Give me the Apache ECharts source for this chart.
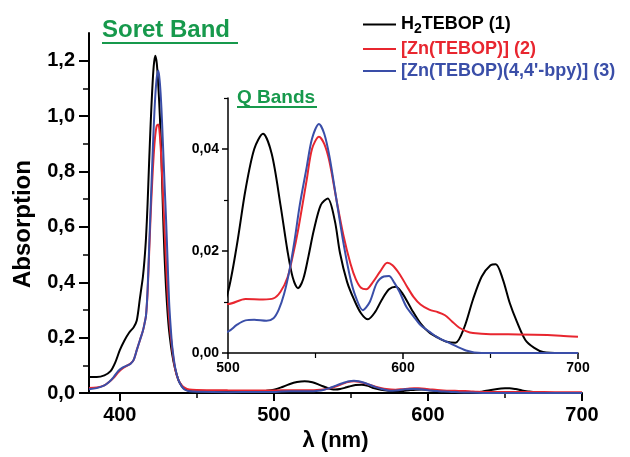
<!DOCTYPE html>
<html><head><meta charset="utf-8">
<script src="https://cdn.jsdelivr.net/npm/echarts@6/dist/echarts.min.js"></script>
<style>html,body{margin:0;padding:0;background:#fff}#c{width:630px;height:457px}</style>
</head><body><div id="c"></div>
<script>
const seriesNames = ['H2TEBOP (1)', '[Zn(TEBOP)] (2)', "[Zn(TEBOP)(4,4'-bpy)] (3)"];
const seriesColors = ['#000000', '#e8262f', '#3a4ea8'];

const h2tebop = [[380,0.058],[385,0.058],[390,0.064],[394,0.079],[397,0.110],[400,0.155],[403,0.190],[406,0.218],[409,0.238],[411,0.262],[413,0.340],[414,0.380],[415,0.420],[416,0.480],[417,0.560],[418,0.680],[419,0.830],[420,0.970],[421,1.090],[422,1.180],[423,1.218],[424,1.190],[425,1.110],[426,1.000],[427,0.850],[428,0.660],[429,0.500],[430,0.380],[431,0.290],[432,0.225],[434,0.140],[436,0.085],[438,0.048],[440,0.027],[442,0.015],[445,0.008],[450,0.005],[470,0.004],[490,0.006],[495,0.008],[500,0.012],[505,0.021],[510,0.032],[515,0.040],[520,0.043],[525,0.039],[530,0.029],[534,0.020],[537,0.0148],[540,0.0127],[543,0.0145],[546,0.019],[549,0.024],[553,0.029],[557,0.0303],[561,0.026],[564,0.0196],[568,0.014],[572,0.0105],[576,0.0078],[580,0.0066],[584,0.008],[588,0.0105],[592,0.0125],[596,0.013],[600,0.0115],[605,0.0085],[610,0.0058],[615,0.004],[620,0.003],[625,0.0022],[630,0.002],[635,0.005],[640,0.0105],[645,0.015],[650,0.0172],[653,0.0174],[657,0.0145],[661,0.0098],[665,0.0062],[670,0.0025],[675,0.001],[680,0.0002],[690,0],[700,0]];

const znTebop = [[380,0.018],[385,0.020],[390,0.028],[393,0.040],[396,0.055],[399,0.075],[402,0.090],[405,0.100],[407,0.107],[409,0.120],[411,0.155],[413,0.190],[415,0.225],[416,0.250],[417,0.280],[418,0.360],[419,0.500],[420,0.640],[421,0.760],[422,0.860],[423,0.930],[424,0.965],[425,0.970],[426,0.930],[427,0.840],[428,0.720],[429,0.600],[430,0.470],[431,0.360],[432,0.270],[434,0.160],[436,0.085],[438,0.048],[440,0.030],[442,0.020],[445,0.013],[450,0.011],[470,0.010],[490,0.0097],[500,0.0096],[510,0.0106],[520,0.0105],[526,0.0107],[530,0.012],[534,0.0148],[537,0.019],[540,0.024],[545,0.034],[548,0.040],[552,0.0424],[555,0.041],[558,0.0375],[562,0.030],[566,0.023],[570,0.0175],[573,0.0145],[576,0.0128],[579,0.0125],[583,0.014],[587,0.0160],[591,0.0177],[594,0.0172],[598,0.0155],[602,0.0132],[606,0.011],[610,0.0095],[615,0.0085],[620,0.0080],[624,0.0074],[628,0.0062],[632,0.005],[636,0.0043],[640,0.0039],[650,0.0037],[660,0.0037],[675,0.0036],[690,0.0034],[700,0.0032]];

const znTebopBpy = [[380,0.014],[385,0.018],[390,0.028],[393,0.040],[396,0.058],[399,0.080],[402,0.093],[405,0.100],[407,0.106],[409,0.120],[411,0.155],[413,0.190],[415,0.225],[416,0.250],[417,0.280],[418,0.370],[419,0.520],[420,0.670],[421,0.820],[422,0.960],[423,1.070],[424,1.140],[425,1.165],[426,1.120],[427,1.030],[428,0.900],[429,0.760],[430,0.630],[431,0.480],[432,0.330],[433,0.240],[434,0.170],[436,0.090],[438,0.048],[440,0.026],[442,0.013],[445,0.007],[450,0.005],[470,0.0035],[490,0.0038],[500,0.0042],[505,0.0055],[510,0.0064],[515,0.0065],[522,0.0063],[526,0.0068],[529,0.0085],[532,0.0115],[535,0.016],[538,0.022],[541,0.029],[545,0.0365],[548,0.042],[552,0.0449],[555,0.043],[558,0.0385],[562,0.030],[566,0.0215],[570,0.0145],[573,0.011],[577,0.0084],[581,0.010],[585,0.0137],[589,0.0150],[592,0.0151],[595,0.0138],[598,0.012],[602,0.009],[606,0.0072],[610,0.0055],[615,0.0042],[620,0.003],[627,0.0019],[636,0.0005],[645,0],[700,0]];

const mainXLabels = [400, 500, 600, 700];
const mainXMinor = [450, 550, 650];
const mainYLabels = [0, 0.2, 0.4, 0.6, 0.8, 1.0, 1.2];
const mainYMinor = [0.1, 0.3, 0.5, 0.7, 0.9, 1.1];
const insetXLabels = [500, 600, 700];
const insetXMinor = [550, 650];
const insetYLabels = [0, 0.02, 0.04];
const insetYMinor = [0.01, 0.03, 0.05];

const FONT = '"Liberation Sans", Arial, sans-serif';
const GREEN = '#17994c';
const comma = d => v => v.toFixed(d).replace('.', ',');

function majorAxis(extra) {
  return Object.assign({
    type: 'value',
    splitLine: { show: false },
    axisLine: { show: true, lineStyle: { color: '#000', width: 2 } },
    axisTick: { show: true, lineStyle: { color: '#000', width: 2 } },
    axisLabel: { color: '#000', fontWeight: 'bold', fontFamily: FONT }
  }, extra);
}
function minorAxis(extra) {
  return Object.assign({
    type: 'value',
    splitLine: { show: false },
    axisLine: { show: false },
    axisLabel: { show: false },
    axisTick: { show: true, lineStyle: { color: '#000', width: 1.5 } }
  }, extra);
}

const chart = echarts.init(document.getElementById('c'), null, { renderer: 'canvas' });
const datasets = [h2tebop, znTebop, znTebopBpy];
const series = [];
[[0, 0], [2, 2]].forEach(([xi, yi]) => {
  datasets.forEach((d, i) => {
    series.push({
      type: 'line', name: seriesNames[i], xAxisIndex: xi, yAxisIndex: yi,
      data: d, showSymbol: false, symbol: 'none', smooth: 0.3,
      clip: true, silent: true,
      lineStyle: { color: seriesColors[i], width: 2 },
      itemStyle: { color: seriesColors[i] }
    });
  });
});

chart.setOption({
  animation: false,
  backgroundColor: '#fff',
  grid: [
    { left: 89, right: 48, top: 33, bottom: 58 },
    { left: 228, right: 52, top: 98, bottom: 104 }
  ],
  xAxis: [
    majorAxis({ gridIndex: 0, min: 380, max: 700,
      axisTick: { show: true, length: 8, customValues: mainXLabels, lineStyle: { color: '#000', width: 2 } },
      axisLabel: { customValues: mainXLabels, formatter: v => String(v), fontSize: 20, fontWeight: 'bold', color: '#000', fontFamily: FONT, margin: 12 },
      name: 'λ (nm)', nameLocation: 'middle', nameGap: 33,
      nameTextStyle: { fontSize: 22, fontWeight: 'bold', color: '#000', fontFamily: FONT } }),
    minorAxis({ gridIndex: 0, min: 380, max: 700, position: 'bottom',
      axisTick: { show: true, length: 5, customValues: mainXMinor, lineStyle: { color: '#000', width: 1.5 } } }),
    majorAxis({ gridIndex: 1, min: 500, max: 700,
      axisLine: { show: true, lineStyle: { color: '#000', width: 1.5 } },
      axisTick: { show: true, length: 6, customValues: insetXLabels, lineStyle: { color: '#000', width: 1.5 } },
      axisLabel: { customValues: insetXLabels, formatter: v => String(v), fontSize: 14, fontWeight: 'bold', color: '#000', fontFamily: FONT, margin: 8 } }),
    minorAxis({ gridIndex: 1, min: 500, max: 700, position: 'bottom',
      axisTick: { show: true, length: 5, customValues: insetXMinor, lineStyle: { color: '#000', width: 1.2 } } })
  ],
  yAxis: [
    majorAxis({ gridIndex: 0, min: 0, max: 1.3,
      axisTick: { show: true, length: 10, customValues: mainYLabels, lineStyle: { color: '#000', width: 2 } },
      axisLabel: { customValues: mainYLabels, formatter: comma(1), fontSize: 20, fontWeight: 'bold', color: '#000', fontFamily: FONT, margin: 14 },
      name: 'Absorption', nameLocation: 'middle', nameGap: 54, nameRotate: 90,
      nameTextStyle: { fontSize: 24, fontWeight: 'bold', color: '#000', fontFamily: FONT, padding: [0, 22, 0, 0] } }),
    minorAxis({ gridIndex: 0, min: 0, max: 1.3, position: 'left',
      axisTick: { show: true, length: 6, customValues: mainYMinor, lineStyle: { color: '#000', width: 1.5 } } }),
    majorAxis({ gridIndex: 1, min: 0, max: 0.05,
      axisLine: { show: true, lineStyle: { color: '#000', width: 1.5 } },
      axisTick: { show: true, length: 6, customValues: insetYLabels, lineStyle: { color: '#000', width: 1.5 } },
      axisLabel: { customValues: insetYLabels, formatter: comma(2), fontSize: 14, fontWeight: 'bold', color: '#000', fontFamily: FONT, margin: 9 } }),
    minorAxis({ gridIndex: 1, min: 0, max: 0.05, position: 'left',
      axisTick: { show: true, length: 4, customValues: insetYMinor, lineStyle: { color: '#000', width: 1.2 } } })
  ],
  legend: {
    orient: 'vertical', left: 363, top: 13, padding: 0, itemWidth: 33, itemHeight: 2, itemGap: 4,
    icon: 'rect',
    selectedMode: false,
    data: seriesNames.map((n, i) => ({ name: n, textStyle: { color: seriesColors[i] } })),
    formatter: n => n === seriesNames[0] ? '{a|H}{s|2}{a|TEBOP (1)}' : n,
    textStyle: {
      fontSize: 18, fontWeight: 'bold', fontFamily: FONT, lineHeight: 18,
      rich: {
        a: { fontSize: 18, fontWeight: 'bold', fontFamily: FONT, color: '#000', lineHeight: 18 },
        s: { fontSize: 14, fontWeight: 'bold', fontFamily: FONT, color: '#000', lineHeight: 18, padding: [9, 0, 0, 0] }
      }
    }
  },
  graphic: [
    { type: 'text', left: 102, top: 18, style: { text: 'Soret Band', font: 'bold 24px ' + FONT, fill: GREEN } },
    { type: 'line', shape: { x1: 102, y1: 43, x2: 238, y2: 43 }, style: { stroke: GREEN, lineWidth: 2 } },
    { type: 'text', left: 237, top: 88, style: { text: 'Q Bands', font: 'bold 19px ' + FONT, fill: GREEN } },
    { type: 'line', shape: { x1: 237, y1: 107, x2: 317, y2: 107 }, style: { stroke: GREEN, lineWidth: 2 } }
  ],
  series: series
});
</script>
</body></html>
